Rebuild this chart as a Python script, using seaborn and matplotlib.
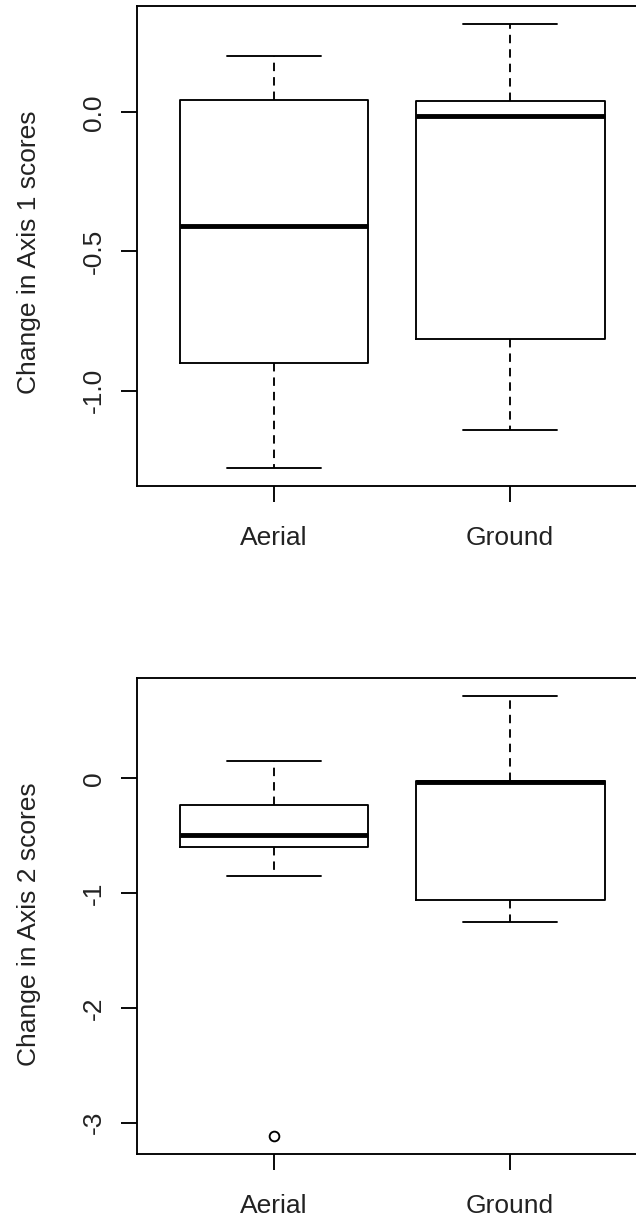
import matplotlib
matplotlib.use("Agg")
import matplotlib.pyplot as plt
import numpy as np
import pandas as pd
import seaborn as sns

# ---- data (box statistics per group) ----
groups = ["Aerial", "Ground"]

# Panel 1: Change in Axis 1 scores
ax1_whisker_low = [-1.279, -1.143]
ax1_q1 = [-0.902, -0.813]
ax1_median = [-0.409, -0.012]
ax1_q3 = [0.045, 0.041]
ax1_whisker_high = [0.203, 0.318]
ax1_outliers = [[], []]

# Panel 2: Change in Axis 2 scores
ax2_whisker_low = [-0.847, -1.247]
ax2_q1 = [-0.602, -1.059]
ax2_median = [-0.496, -0.030]
ax2_q3 = [-0.236, -0.021]
ax2_whisker_high = [0.150, 0.721]
ax2_outliers = [[-3.119], []]

y1_ticks = [0.0, -0.5, -1.0]
y1_ticklabels = ["0.0", "-0.5", "-1.0"]
y2_ticks = [0, -1, -2, -3]
y2_ticklabels = ["0", "-1", "-2", "-3"]


def sample_from_stats(lo, q1, med, q3, hi, outliers):
    """Build a sample whose linear-interpolated quartiles/whiskers equal the stats."""
    core = [lo, q1, q1, med, med, med, q3, q3, hi]
    low_out = [o for o in outliers if o < lo]
    high_out = [o for o in outliers if o > hi]
    pad_hi = [hi] * len(low_out)
    pad_lo = [lo] * len(high_out)
    return sorted(low_out + pad_lo + core + pad_hi + high_out)


def build_frame(lo, q1, med, q3, hi, outs):
    rows = []
    for i, g in enumerate(groups):
        for v in sample_from_stats(lo[i], q1[i], med[i], q3[i], hi[i], outs[i]):
            rows.append({"group": g, "value": v})
    return pd.DataFrame(rows)


df1 = build_frame(ax1_whisker_low, ax1_q1, ax1_median, ax1_q3, ax1_whisker_high, ax1_outliers)
df2 = build_frame(ax2_whisker_low, ax2_q1, ax2_median, ax2_q3, ax2_whisker_high, ax2_outliers)

sns.set_style("white")
plt.rcParams["font.family"] = ["Liberation Sans", "DejaVu Sans"]
plt.rcParams["axes.unicode_minus"] = False

fig = plt.figure(figsize=(6.36, 12.16), dpi=100)
axA = fig.add_axes([0.2154, 0.6003, 0.802, 0.3947])
axB = fig.add_axes([0.2154, 0.0510, 0.802, 0.3914])

LW = 1.35


def draw(ax, df, lo, hi, outs, ticks, ticklabels, ylabel, label_y):
    sns.boxplot(
        data=df, x="group", y="value", order=groups, ax=ax,
        fill=False, color="black", linecolor="black", width=0.8,
        linewidth=LW, whis=1.5,
        medianprops=dict(linewidth=3.5, color="black", solid_capstyle="butt"),
        whiskerprops=dict(linestyle=(0, (4.5, 3.2)), linewidth=LW, color="black"),
        capprops=dict(linewidth=LW, color="black"),
        boxprops=dict(linewidth=LW, color="black"),
        flierprops=dict(marker="o", markersize=7, markerfacecolor="none",
                        markeredgecolor="black", markeredgewidth=LW),
    )
    allv = list(lo) + list(hi) + [o for g in outs for o in g]
    vmin, vmax = min(allv), max(allv)
    r = vmax - vmin
    ax.set_ylim(vmin - 0.04 * r, vmax + 0.04 * r)
    ax.set_xlim(-0.58, 1.58)
    ax.set_yticks(ticks)
    ax.set_yticklabels(ticklabels)
    ax.set_xticks(range(len(groups)))
    ax.set_xticklabels(groups)
    ax.set_xlabel("")
    ax.set_ylabel(ylabel, fontsize=19, color="#222222")
    ax.yaxis.set_label_coords(-0.189, label_y)
    for s in ax.spines.values():
        s.set_visible(True)
        s.set_color("black")
        s.set_linewidth(LW)
    ax.tick_params(axis="both", direction="out", length=11.5, width=LW,
                   color="black", labelsize=19, labelcolor="#222222",
                   left=True, bottom=True)
    ax.tick_params(axis="y", labelrotation=90, pad=11)
    ax.tick_params(axis="x", pad=17)
    for t in ax.get_yticklabels():
        t.set_verticalalignment("center")
    ax.set_facecolor("white")


draw(axA, df1, ax1_whisker_low, ax1_whisker_high, ax1_outliers,
     y1_ticks, y1_ticklabels, "Change in Axis 1 scores", 0.4875)
draw(axB, df2, ax2_whisker_low, ax2_whisker_high, ax2_outliers,
     y2_ticks, y2_ticklabels, "Change in Axis 2 scores", 0.483)

fig.savefig("out.png", dpi=100, facecolor="white")
